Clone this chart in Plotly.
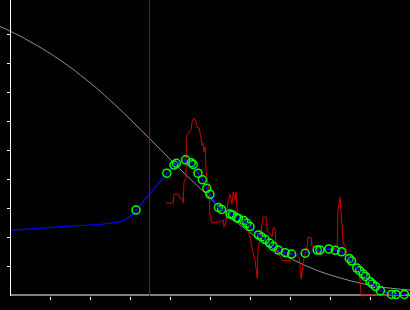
import plotly.graph_objects as go

# Smooth reference curve (gray)
gray_x = [-0.25, 0, 0.25, 0.75, 1.0, 1.5, 2.0, 2.25, 2.75, 3.25, 3.75, 4.25, 4.75, 5.25, 5.75, 6.25,
          6.75, 7.25, 7.75, 8.25, 8.75, 9.25, 10]
gray_y = [9.26, 9.10, 8.93, 8.54, 8.33, 7.86, 7.32, 7.03, 6.40, 5.72, 5.03, 4.34, 3.68, 3.02, 2.42, 1.90,
          1.45, 1.10, 0.81, 0.59, 0.41, 0.28, 0.17]

# Blue line: leading part without markers
lead_x = [0, 0.63, 1.05, 1.5, 1.93, 2.25, 2.5, 2.75, 2.93, 3.05]
lead_y = [2.23, 2.30, 2.33, 2.37, 2.40, 2.44, 2.47, 2.53, 2.64, 2.76]

# Marked points (green circles)
pt_x = [3.15, 3.92, 4.10, 4.16, 4.39, 4.53, 4.58, 4.70, 4.81, 4.92, 5.00, 5.21, 5.29, 5.50, 5.56, 5.66,
        5.71, 5.84, 5.92, 6.00, 6.21, 6.29, 6.38, 6.49, 6.58, 6.71, 6.88, 7.04, 7.38, 7.68, 7.75, 7.97,
        8.13, 8.29, 8.48, 8.54, 8.67, 8.74, 8.83, 8.89, 9.00, 9.06, 9.14, 9.26, 9.54, 9.65, 9.86]
pt_y = [2.93, 4.20, 4.48, 4.54, 4.66, 4.56, 4.50, 4.20, 3.97, 3.68, 3.47, 3.02, 2.95, 2.79, 2.76, 2.67,
        2.64, 2.57, 2.47, 2.36, 2.07, 2.00, 1.91, 1.79, 1.68, 1.55, 1.46, 1.41, 1.44, 1.55, 1.55, 1.59,
        1.54, 1.49, 1.26, 1.17, 0.93, 0.84, 0.72, 0.64, 0.46, 0.38, 0.29, 0.15, 0.02, 0.02, 0.02]

# Noisy red series
red_x = [3.90, 4.08, 4.10, 4.20, 4.25, 4.30, 4.33, 4.35, 4.40, 4.41, 4.43, 4.48, 4.53, 4.55, 4.60, 4.65,
         4.68, 4.73, 4.78, 4.80, 4.83, 4.85, 4.88, 4.90, 4.95, 4.98, 5.00, 5.05, 5.20, 5.25, 5.33, 5.35,
         5.40, 5.45, 5.50, 5.55, 5.58, 5.63, 5.65, 5.68, 5.75, 5.80, 5.88, 5.95, 6.00, 6.05, 6.10, 6.13,
         6.18, 6.20, 6.25, 6.33, 6.40, 6.43, 6.55, 6.58, 6.63, 6.65, 6.83, 7.05, 7.18, 7.23, 7.28, 7.33,
         7.43, 7.45, 7.53, 7.55, 7.65, 7.68, 7.80, 7.85, 8.18, 8.20, 8.25, 8.28, 8.33, 8.38, 8.43, 8.50,
         8.60, 8.65, 8.73, 8.78, 9.75]
red_y = [3.17, 3.17, 3.48, 3.48, 3.34, 3.34, 3.17, 3.90, 4.03, 5.41, 5.52, 5.62, 5.69, 5.97, 6.10, 6.00,
         5.76, 5.76, 5.41, 5.17, 5.24, 4.93, 5.10, 4.31, 3.79, 3.62, 2.76, 2.48, 2.52, 2.52, 2.59, 2.34,
         2.52, 3.21, 3.48, 3.14, 3.55, 3.28, 3.55, 2.83, 2.72, 2.66, 2.55, 2.24, 2.00, 1.62, 1.28, 1.17,
         0.59, 1.55, 1.90, 2.69, 2.69, 2.24, 2.00, 2.31, 2.31, 1.55, 1.17, 1.21, 1.38, 1.28, 0.55, 1.14,
         1.69, 2.00, 1.97, 1.66, 1.66, 1.48, 1.48, 1.55, 1.62, 2.93, 3.38, 2.86, 1.79, 1.66, 1.38, 1.14,
         1.14, 0.93, 0.86, 0.0, 0.0]

vline_x = 3.4875
tick_vals = [1, 2, 3, 4, 5, 6, 7, 8, 9]
x_range = [-0.25, 10]
y_range = [-1 / 29, 295 / 29]

fig = go.Figure()
fig.add_trace(go.Scatter(x=gray_x, y=gray_y, mode="lines",
                         line=dict(color="#909090", width=1, shape="spline", smoothing=1)))
fig.add_trace(go.Scatter(x=[vline_x, vline_x], y=y_range, mode="lines",
                         line=dict(color="#800090", width=1)))
fig.add_trace(go.Scatter(x=red_x, y=red_y, mode="lines",
                         line=dict(color="#d00000", width=1)))
fig.add_trace(go.Scatter(x=lead_x + pt_x, y=lead_y + pt_y, mode="lines",
                         line=dict(color="#0000ff", width=1.2)))
fig.add_trace(go.Scatter(x=pt_x, y=pt_y, mode="markers", cliponaxis=False,
                         marker=dict(symbol="circle-open", size=8, color="#00ff00",
                                     line=dict(color="#00ff00", width=1.5))))
fig.add_trace(go.Scatter(x=pt_x, y=pt_y, mode="markers", cliponaxis=False,
                         marker=dict(symbol="circle", size=2, color="#0000ff")))

fig.add_shape(type="line", x0=0, x1=x_range[1], y0=0, y1=0, xref="x", yref="y",
              line=dict(color="white", width=1), layer="below")

fig.update_layout(
    width=410, height=310,
    margin=dict(l=0, r=0, t=0, b=14),
    paper_bgcolor="black", plot_bgcolor="black",
    showlegend=False,
    xaxis=dict(range=x_range, showgrid=False, zeroline=False, showline=False,
               ticks="outside", tickvals=tick_vals, ticklen=3, tickwidth=1, tickcolor="white",
               showticklabels=False),
    yaxis=dict(range=y_range, anchor="free", position=10 / 410, showgrid=False, zeroline=False,
               showline=True, linecolor="white", linewidth=1,
               ticks="outside", tickvals=tick_vals, ticklen=3, tickwidth=1, tickcolor="white",
               showticklabels=False),
)

fig.write_html("out.html")
